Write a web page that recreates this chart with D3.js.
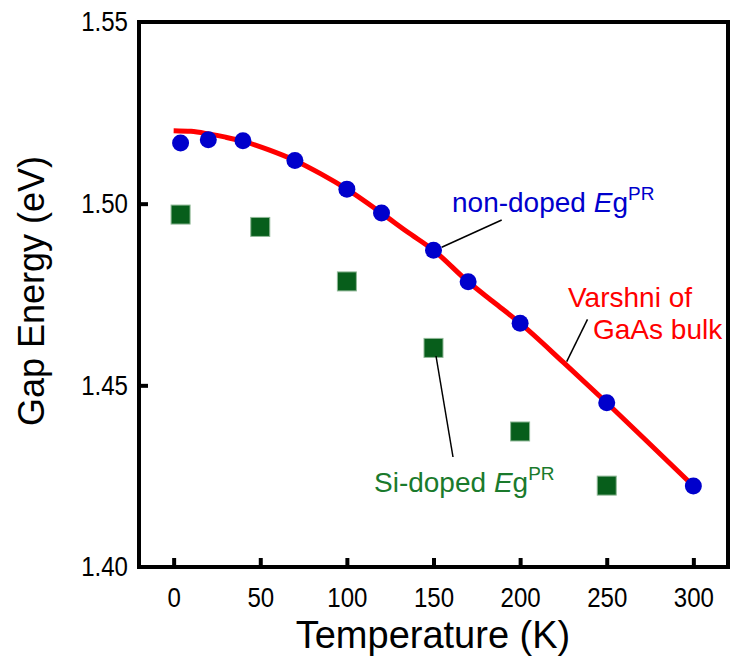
<!DOCTYPE html>
<html>
<head>
<meta charset="utf-8">
<script src="https://cdn.jsdelivr.net/npm/d3@7"></script>
<style>
  body { margin: 0; background: #fff; }
  svg text { font-family: "Liberation Sans", Arial, sans-serif; }
</style>
</head>
<body>
<div class="canva"></div>
<script>
// data
const nonDopedT = [4, 20, 40, 70, 100, 120, 150, 170, 200, 250, 300];
const nonDopedE = [1.5167, 1.5176, 1.5173, 1.5119, 1.5040, 1.4974, 1.4872, 1.4785, 1.4671, 1.4452, 1.4223];

const siDopedT = [4, 50, 100, 150, 200, 250];
const siDopedE = [1.4970, 1.4936, 1.4786, 1.4603, 1.4373, 1.4224];

// Varshni curve, points
const varshniT = [0, 10, 20, 30, 40, 55, 70, 85, 100, 120, 135, 150, 170, 185, 200, 225, 250, 275, 300];
const varshniE = [1.5201, 1.5199, 1.5192, 1.5183, 1.5172, 1.5148, 1.5119, 1.5082, 1.5040, 1.4974,
                  1.4922, 1.4872, 1.4785, 1.4728, 1.4671, 1.4563, 1.4452, 1.4338, 1.4223];

const xTicks = [0, 50, 100, 150, 200, 250, 300];
const yTicks = [1.40, 1.45, 1.50, 1.55];

const svg = d3.select('.canva').append('svg')
  .attr('width', 730)
  .attr('height', 657);

const x = d3.scaleLinear().domain([-20, 320]).range([139, 728]);
const y = d3.scaleLinear().domain([1.40, 1.55]).range([567, 22]);
const squeeze = 0.86; // the labels look a bit condensed

//Frame
svg.append('rect')
  .attr('x', x(-20)).attr('y', y(1.55))
  .attr('width', x(320) - x(-20)).attr('height', y(1.40) - y(1.55))
  .attr('fill', 'none').attr('stroke', '#000').attr('stroke-width', 4);

//Axes (ticks inward)
const xAxis = svg.append('g')
  .attr('transform', `translate(0,${y(1.40)})`)
  .call(d3.axisBottom(x).tickValues(xTicks).tickSize(-9).tickPadding(20).tickFormat(d3.format('d')));
xAxis.select('.domain').remove();
xAxis.selectAll('line').attr('stroke-width', 4);
xAxis.selectAll('text')
  .attr('font-size', 28).attr('fill', '#000')
  .attr('transform', `scale(${squeeze},1)`);

const yAxis = svg.append('g')
  .attr('transform', `translate(${x(-20)},0)`)
  .call(d3.axisLeft(y).tickValues(yTicks).tickSize(-9).tickFormat(d3.format('.2f')));
yAxis.select('.domain').remove();
yAxis.selectAll('line').attr('stroke-width', 4)
  .attr('opacity', d => (d === 1.40 || d === 1.55) ? 0 : 1);
yAxis.selectAll('text')
  .attr('font-size', 28).attr('fill', '#000')
  .attr('x', -11 / squeeze)
  .attr('transform', `scale(${squeeze},1)`);

//Axis titles
svg.append('text')
  .attr('x', 433).attr('y', 648)
  .attr('text-anchor', 'middle').attr('font-size', 38)
  .text('Temperature (K)');

svg.append('text')
  .attr('transform', 'translate(44,291) rotate(-90)')
  .attr('text-anchor', 'middle').attr('font-size', 36)
  .text('Gap Energy (eV)');

//Varshni line
const line = d3.line()
  .x((d, i) => x(varshniT[i]))
  .y(d => y(d))
  .curve(d3.curveMonotoneX);

svg.append('path')
  .datum(varshniE)
  .attr('d', line)
  .attr('fill', 'none')
  .attr('stroke', '#ff0000')
  .attr('stroke-width', 5);

//Si-doped squares
const sq = 19;
svg.selectAll('rect.si')
  .data(siDopedE)
  .enter().append('rect')
  .attr('class', 'si')
  .attr('x', (d, i) => x(siDopedT[i]) - sq / 2)
  .attr('y', d => y(d) - sq / 2)
  .attr('width', sq).attr('height', sq)
  .attr('fill', '#075e1b')
  .attr('stroke', '#8fb896').attr('stroke-width', 1);

//non-doped circles
svg.selectAll('circle')
  .data(nonDopedE)
  .enter().append('circle')
  .attr('cx', (d, i) => x(nonDopedT[i]))
  .attr('cy', d => y(d))
  .attr('r', 8.5)
  .attr('fill', '#0000cc');

//Leader lines
const leaders = [
  [501.7, 220, 441.7, 247.3],
  [587.5, 319.3, 566.7, 361.7],
  [436, 356, 453, 457]
];
svg.selectAll('line.leader')
  .data(leaders)
  .enter().append('line')
  .attr('class', 'leader')
  .attr('x1', d => d[0]).attr('y1', d => d[1])
  .attr('x2', d => d[2]).attr('y2', d => d[3])
  .attr('stroke', '#000').attr('stroke-width', 1.5);

//Labels
function egLabel(px, py, prefix, color) {
  const t = svg.append('text')
    .attr('x', px).attr('y', py)
    .attr('font-size', 28).attr('fill', color);
  t.append('tspan').text(prefix);
  t.append('tspan').attr('font-style', 'italic').text('E');
  t.append('tspan').text('g');
  t.append('tspan').attr('font-size', 19).attr('dy', -12).text('PR');
}
egLabel(452, 212, 'non-doped ', '#0000cc');
egLabel(374, 492, 'Si-doped ', '#1a7a2c');

svg.append('text')
  .attr('x', 568).attr('y', 307)
  .attr('font-size', 28).attr('fill', '#ff0000')
  .text('Varshni of');
svg.append('text')
  .attr('x', 593).attr('y', 339)
  .attr('font-size', 28).attr('fill', '#ff0000')
  .text('GaAs bulk');
</script>
</body>
</html>
